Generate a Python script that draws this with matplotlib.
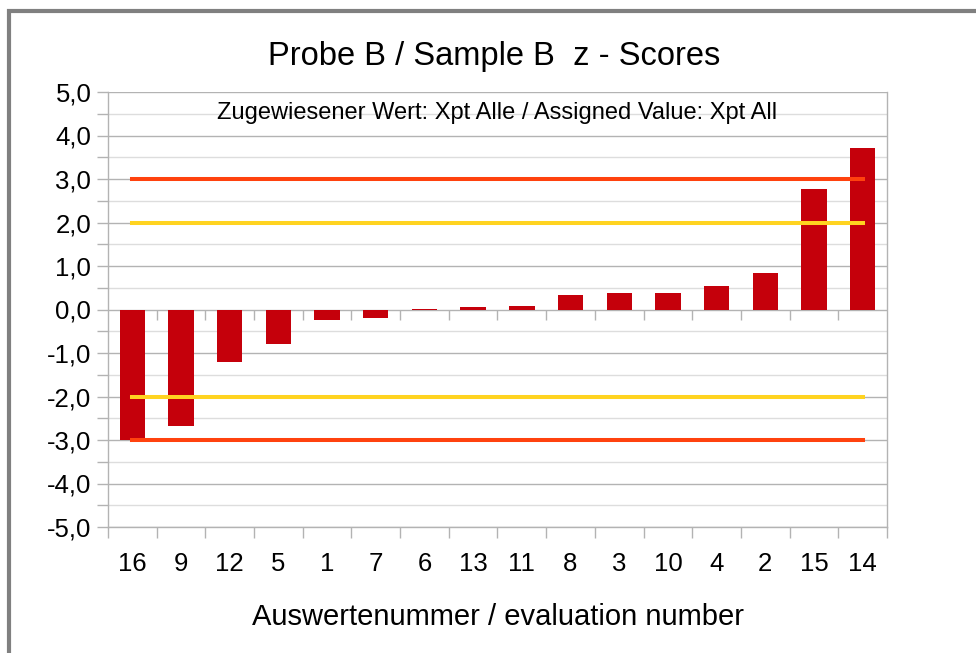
import numpy as np
import matplotlib
matplotlib.use("Agg")
import matplotlib.pyplot as plt
from matplotlib.patches import Rectangle
from matplotlib.ticker import FixedLocator, FuncFormatter

plt.rcParams["font.family"] = ["Liberation Sans", "DejaVu Sans"]

# evaluation numbers, sorted by z-score
labels = ["16", "9", "12", "5", "1", "7", "6", "13", "11", "8", "3", "10", "4", "2", "15", "14"]
z_scores = [-3.00, -2.68, -1.21, -0.80, -0.25, -0.20, 0.02, 0.05, 0.07,
            0.34, 0.37, 0.37, 0.53, 0.85, 2.78, 3.72]
warn_limit = 2.0
action_limit = 3.0

title = "Probe B / Sample B  z - Scores"
subtitle = "Zugewiesener Wert: Xpt Alle / Assigned Value: Xpt All"
xlabel = "Auswertenummer / evaluation number"

W, H = 976, 653
fig = plt.figure(figsize=(W/100, H/100), dpi=100)
ax = fig.add_axes([108/W, 1 - 527/H, 779/W, 435/H])

x = np.arange(len(labels))
grid_major = "#b3b3b3"
grid_minor = "#dddddd"

ax.set_xlim(-0.5, len(labels) - 0.5)
ax.set_ylim(-5, 5)

ax.yaxis.set_major_locator(FixedLocator(np.arange(-5, 5.1, 1.0)))
ax.yaxis.set_minor_locator(FixedLocator(np.arange(-4.5, 5, 1.0)))
ax.yaxis.set_major_formatter(FuncFormatter(lambda v, p: f"{v:.1f}".replace(".", ",")))
ax.grid(axis="y", which="major", color=grid_major, lw=1.0, zorder=0)
ax.grid(axis="y", which="minor", color=grid_minor, lw=1.0, zorder=0)

ax.set_xticks(x)
ax.set_xticklabels(labels)
ax.xaxis.set_minor_locator(FixedLocator(np.arange(-0.5, len(labels), 1.0)))

ax.tick_params(axis="y", which="both", length=8, width=1, color=grid_major,
               labelsize=18.5, pad=4)
ax.tick_params(axis="x", which="major", length=0, labelsize=18.5, pad=18)
ax.tick_params(axis="x", which="minor", length=8, width=1, color=grid_major)

for side in ["left", "right", "bottom"]:
    ax.spines[side].set_color(grid_major)
    ax.spines[side].set_linewidth(1.0)
ax.spines["top"].set_visible(False)

# little ticks on the zero line at category boundaries
ax.vlines(np.arange(0.5, len(labels) - 1, 1.0), 0, -0.23, color=grid_major, lw=1, zorder=1)

ax.bar(x, z_scores, width=0.52, color="#c5000b", zorder=2)
ax.plot(x, [action_limit]*len(x), color="#ff420e", lw=2.9, zorder=3)
ax.plot(x, [warn_limit]*len(x), color="#ffd320", lw=2.9, zorder=3)
ax.plot(x, [-warn_limit]*len(x), color="#ffd320", lw=2.9, zorder=3)
ax.plot(x, [-action_limit]*len(x), color="#ff420e", lw=2.9, zorder=3)

ax.text(0.5, 1 - (113 - 92)/435, subtitle, transform=ax.transAxes,
        ha="center", va="center", fontsize=17, zorder=4)
fig.text(494/W, 1 - 56/H, title, ha="center", va="center", fontsize=23.5)
fig.text(498/W, 1 - 617/H, xlabel, ha="center", va="center", fontsize=21)

fig.patches.append(Rectangle((9/W, -0.1), 1.2, 1 - 11/H + 0.1, transform=fig.transFigure,
                             fill=False, edgecolor="#808080", lw=3))

fig.savefig("out.png", dpi=100)
